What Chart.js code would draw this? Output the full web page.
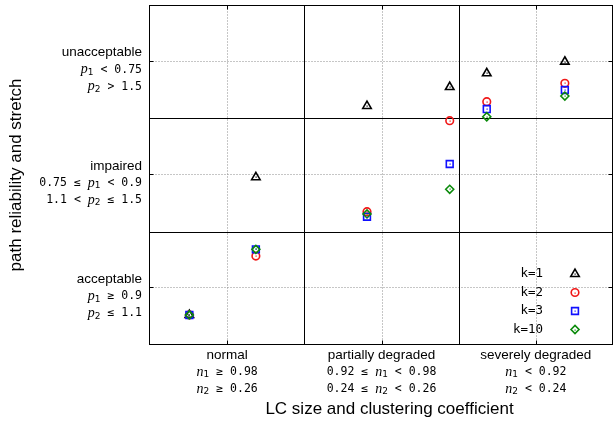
<!DOCTYPE html>
<html>
<head>
<meta charset="utf-8">
<script src="https://cdn.jsdelivr.net/npm/chart.js@4/dist/chart.umd.min.js"></script>
<style>
  html, body { margin: 0; padding: 0; background: #fff; overflow: hidden; }
  #wrap { width: 613px; height: 423px; }
  canvas { display: block; }
</style>
</head>
<body>
<div id="wrap"><canvas id="c" width="613" height="423"></canvas></div>
<script>
// Network state classes (x) against path quality classes (y)
const xCategories = ['normal', 'partially degraded', 'severely degraded'];
const xConditions = [
  ['n_1 ≥ 0.98', 'n_2 ≥ 0.26'],
  ['0.92 ≤ n_1 < 0.98', '0.24 ≤ n_2 < 0.26'],
  ['n_1 < 0.92', 'n_2 < 0.24']
];
const yCategories = ['acceptable', 'impaired', 'unacceptable'];
const yConditions = [
  ['p_1 ≥ 0.9', 'p_2 ≤ 1.1'],
  ['0.75 ≤ p_1 < 0.9', '1.1 < p_2 ≤ 1.5'],
  ['p_1 < 0.75', 'p_2 > 1.5']
];
const xTitle = 'LC size and clustering coefficient';
const yTitle = 'path reliability and stretch';

// Measurement positions along the network-state axis
const xValues = [0.255, 0.686, 1.406, 1.942, 2.182, 2.688];

// Path-quality score for each k
const seriesNames = ['k=1', 'k=2', 'k=3', 'k=10'];
const k1  = [0.265, 1.480, 2.109, 2.276, 2.397, 2.500];
const k2  = [0.265, 0.785, 1.176, 1.979, 2.147, 2.309];
const k3  = [0.265, 0.844, 1.132, 1.597, 2.082, 2.250];
const k10 = [0.265, 0.844, 1.156, 1.374, 2.014, 2.197];

const seriesValues = [k1, k2, k3, k10];
const seriesColors = ['#000000', '#f01818', '#1010ff', '#0a8a0a'];
const seriesStyles = ['triangle', 'circle', 'rect', 'rectRot'];
const seriesRadius = [4.9, 3.8, 4.8, 4.0];

const SANS = '"Liberation Sans", Arial, sans-serif';
const MONO = '"DejaVu Sans Mono", monospace';

const datasets = seriesNames.map((name, i) => ({
  label: name,
  data: xValues.map((x, j) => ({ x: x, y: seriesValues[i][j] })),
  pointStyle: seriesStyles[i],
  pointRadius: seriesRadius[i],
  pointBorderWidth: 1.6,
  pointBorderColor: seriesColors[i],
  pointBackgroundColor: 'rgba(0,0,0,0)',
  showLine: false,
  order: seriesNames.length - 1 - i
}));

// Split "p_1 < 0.75" into mono text, italic variable and subscript runs
function conditionRuns(str) {
  const m = str.match(/^(.*?)([a-z])_(\d)(.*)$/);
  return [
    { text: m[1], font: '11.5px ' + MONO, dy: 0 },
    { text: m[2], font: 'italic 14px "Liberation Serif", "DejaVu Serif", serif', dy: 0 },
    { text: m[3], font: '9px "DejaVu Sans", sans-serif', dy: 3 },
    { text: m[4], font: '11.5px ' + MONO, dy: 0 }
  ];
}

function drawRuns(ctx, runs, x, y, align) {
  let total = 0;
  runs.forEach(r => { ctx.font = r.font; r.w = ctx.measureText(r.text).width; total += r.w; });
  let cx = align === 'right' ? x - total : (align === 'center' ? x - total / 2 : x);
  ctx.textAlign = 'left';
  ctx.textBaseline = 'middle';
  runs.forEach(r => { ctx.font = r.font; ctx.fillText(r.text, cx, y + r.dy); cx += r.w; });
}

const framePlugin = {
  id: 'frame',
  beforeDatasetsDraw(chart) {
    const { ctx, chartArea: a, scales: { x, y } } = chart;
    const L = a.left - 0.5, R = a.right - 0.5, T = a.top + 0.5, B = a.bottom - 0.5;
    ctx.save();
    // dotted guides through class centres
    ctx.strokeStyle = '#8c8c8c';
    ctx.lineWidth = 1;
    ctx.setLineDash([1, 2]);
    [0.5, 1.5, 2.5].forEach(v => {
      const px = Math.round(x.getPixelForValue(v)) + 0.5;
      ctx.beginPath(); ctx.moveTo(px, T); ctx.lineTo(px, B); ctx.stroke();
      const py = Math.round(y.getPixelForValue(v)) - 0.5;
      ctx.beginPath(); ctx.moveTo(L, py); ctx.lineTo(R, py); ctx.stroke();
    });
    ctx.setLineDash([]);
    // solid class boundaries
    ctx.strokeStyle = '#000';
    [1, 2].forEach(v => {
      const px = Math.round(x.getPixelForValue(v)) + 0.5;
      ctx.beginPath(); ctx.moveTo(px, T); ctx.lineTo(px, B); ctx.stroke();
      const py = Math.round(y.getPixelForValue(v)) + 0.5;
      ctx.beginPath(); ctx.moveTo(L, py); ctx.lineTo(R, py); ctx.stroke();
    });
    // small inward ticks at class centres
    [0.5, 1.5, 2.5].forEach(v => {
      const px = Math.round(x.getPixelForValue(v)) + 0.5;
      ctx.beginPath(); ctx.moveTo(px, B); ctx.lineTo(px, B - 4); ctx.moveTo(px, T); ctx.lineTo(px, T + 4); ctx.stroke();
      const py = Math.round(y.getPixelForValue(v)) - 0.5;
      ctx.beginPath(); ctx.moveTo(L, py); ctx.lineTo(L + 4, py); ctx.moveTo(R, py); ctx.lineTo(R - 4, py); ctx.stroke();
    });
    // border
    ctx.strokeRect(L, T, R - L, B - T);

    // y class labels
    ctx.fillStyle = '#000';
    yCategories.forEach((name, i) => {
      const py = y.getPixelForValue(i + 0.5);
      const rx = a.left - 8;
      drawRuns(ctx, [{ text: name, font: '13.5px ' + SANS, dy: 0 }], rx, py - 9, 'right');
      drawRuns(ctx, conditionRuns(yConditions[i][0]), rx, py + 8, 'right');
      drawRuns(ctx, conditionRuns(yConditions[i][1]), rx, py + 25, 'right');
    });
    // x class labels
    xCategories.forEach((name, i) => {
      const px = x.getPixelForValue(i + 0.5);
      drawRuns(ctx, [{ text: name, font: '13.5px ' + SANS, dy: 0 }], px, a.bottom + 10, 'center');
      drawRuns(ctx, conditionRuns(xConditions[i][0]), px, a.bottom + 27, 'center');
      drawRuns(ctx, conditionRuns(xConditions[i][1]), px, a.bottom + 44, 'center');
    });
    // axis titles
    ctx.font = '17px ' + SANS;
    ctx.textAlign = 'center';
    ctx.textBaseline = 'middle';
    ctx.fillText(xTitle, (a.left + a.right) / 2 + 8, a.bottom + 64);
    ctx.save();
    ctx.translate(16, (a.top + a.bottom) / 2);
    ctx.rotate(-Math.PI / 2);
    ctx.fillText(yTitle, 0, 0);
    ctx.restore();
    ctx.restore();
  },
  afterDatasetsDraw(chart) {
    const { ctx } = chart;
    ctx.save();
    // centre dot of every marker, in drawing order
    const metas = chart.getSortedVisibleDatasetMetas();
    for (let i = metas.length - 1; i >= 0; i--) {
      const meta = metas[i];
      ctx.fillStyle = seriesColors[meta.index];
      meta.data.forEach(pt => { ctx.fillRect(Math.round(pt.x) - 0.5, Math.round(pt.y) - 0.5, 1.2, 1.2); });
    }
    // key, bottom right inside the plot
    const rowY = [274, 292.5, 311, 329.5];
    seriesNames.forEach((name, i) => {
      ctx.fillStyle = '#000';
      ctx.font = '12.5px ' + MONO;
      ctx.textAlign = 'right';
      ctx.textBaseline = 'middle';
      ctx.fillText(name, 543, rowY[i]);
      ctx.strokeStyle = seriesColors[i];
      ctx.fillStyle = 'rgba(0,0,0,0)';
      ctx.lineWidth = 1.6;
      Chart.helpers.drawPoint(ctx, { pointStyle: seriesStyles[i], radius: seriesRadius[i], rotation: 0, borderWidth: 1.6 }, 575, rowY[i]);
      ctx.fillStyle = seriesColors[i];
      ctx.fillRect(574.5, Math.round(rowY[i]) - 0.5, 1.2, 1.2);
    });
    ctx.restore();
  }
};

new Chart(document.getElementById('c'), {
  type: 'scatter',
  data: { datasets: datasets },
  options: {
    responsive: false,
    animation: false,
    devicePixelRatio: 1,
    layout: { autoPadding: false, padding: { top: 5, right: 0, left: 0, bottom: 0 } },
    scales: {
      x: {
        type: 'linear', min: 0, max: 3,
        grid: { display: false }, border: { display: false },
        ticks: { display: false },
        afterFit: s => { s.height = 78; }
      },
      y: {
        type: 'linear', min: 0, max: 3,
        grid: { display: false }, border: { display: false },
        ticks: { display: false },
        afterFit: s => { s.width = 150; }
      }
    },
    plugins: { legend: { display: false }, tooltip: { enabled: false } }
  },
  plugins: [framePlugin]
});
</script>
</body>
</html>
